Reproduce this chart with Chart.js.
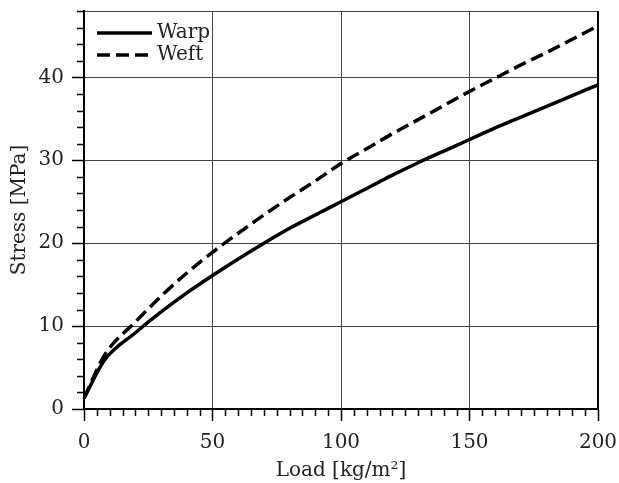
<!DOCTYPE html>
<html>
<head>
<meta charset="utf-8">
<script src="https://cdn.jsdelivr.net/npm/chart.js@4.4.1/dist/chart.umd.min.js"></script>
<style>
  html, body { margin: 0; padding: 0; background: #fff; }
  #wrap { width: 619px; height: 483px; }
</style>
</head>
<body>
<div id="wrap"><canvas id="c" width="619" height="483"></canvas></div>
<script>
const loads = [0, 8, 20, 30, 40, 50, 60, 70, 80, 90, 100, 110, 120, 130, 140, 150, 160, 170, 180, 190, 200];
const warp  = [1.3, 5.9, 9.2, 11.7, 14.0, 16.1, 18.1, 20.0, 21.8, 23.4, 25.0, 26.6, 28.2, 29.7, 31.1, 32.5, 33.9, 35.2, 36.5, 37.8, 39.1];
const weft  = [1.3, 6.5, 10.5, 13.6, 16.4, 18.9, 21.2, 23.4, 25.5, 27.5, 29.6, 31.4, 33.2, 34.9, 36.6, 38.3, 39.9, 41.5, 43.0, 44.6, 46.2];
const seriesLabels = ['Warp', 'Weft'];
const xMajorTicks = [0, 50, 100, 150, 200];
const yMajorTicks = [0, 10, 20, 30, 40];
const xMinorStep = 5;
const yMinorStep = 2;
const xTitle = 'Load [kg/m²]';
const yTitle = 'Stress [MPa]';

const FONT = 'DejaVu Serif';
const FS = 20;
const TXT = '#222';

function pts(ys) { return loads.map((x, i) => ({ x: x, y: ys[i] })); }

const extras = {
  id: 'extras',
  afterDraw(chart) {
    const ctx = chart.ctx;
    const xs = chart.scales.x, ys = chart.scales.y;
    const a = chart.chartArea;
    ctx.save();
    // minor ticks
    ctx.strokeStyle = '#000';
    ctx.lineWidth = 1.5;
    ctx.beginPath();
    for (let v = xs.min; v <= xs.max + 1e-9; v += xMinorStep) {
      if (xMajorTicks.includes(v)) continue;
      const px = Math.round(xs.getPixelForValue(v)) + 0.5;
      ctx.moveTo(px, a.bottom);
      ctx.lineTo(px, a.bottom + 7);
    }
    for (let v = ys.min; v <= ys.max + 1e-9; v += yMinorStep) {
      if (yMajorTicks.includes(v)) continue;
      const py = Math.round(ys.getPixelForValue(v)) + 0.5;
      ctx.moveTo(a.left, py);
      ctx.lineTo(a.left - 7, py);
    }
    ctx.stroke();
    // frame
    ctx.strokeStyle = '#444';
    ctx.lineWidth = 1;
    ctx.beginPath();
    ctx.moveTo(a.left, Math.round(a.top) + 0.5);
    ctx.lineTo(a.right, Math.round(a.top) + 0.5);
    ctx.stroke();
    ctx.strokeStyle = '#000';
    ctx.lineWidth = 2;
    ctx.beginPath();
    ctx.moveTo(a.right, a.top);
    ctx.lineTo(a.right, a.bottom);
    ctx.moveTo(a.left, a.top);
    ctx.lineTo(a.left, a.bottom + 1);
    ctx.moveTo(a.left - 1, a.bottom);
    ctx.lineTo(a.right + 1, a.bottom);
    ctx.stroke();
    // legend
    ctx.font = FS + 'px "' + FONT + '"';
    ctx.textBaseline = 'middle';
    ctx.textAlign = 'left';
    chart.data.datasets.forEach((ds, i) => {
      const y = a.top + 22 + i * 22;
      ctx.strokeStyle = ds.borderColor;
      ctx.lineWidth = ds.borderWidth;
      ctx.setLineDash(ds.borderDash || []);
      ctx.beginPath();
      ctx.moveTo(a.left + 13, y);
      ctx.lineTo(a.left + 68, y);
      ctx.stroke();
      ctx.setLineDash([]);
      ctx.fillStyle = TXT;
      ctx.fillText(ds.label, a.left + 73, y);
    });
    ctx.restore();
  }
};

new Chart(document.getElementById('c'), {
  type: 'line',
  data: {
    datasets: [
      { label: seriesLabels[0], data: pts(warp), borderColor: '#000', borderWidth: 3.5,
        pointRadius: 0, cubicInterpolationMode: 'monotone', fill: false },
      { label: seriesLabels[1], data: pts(weft), borderColor: '#000', borderWidth: 3.5,
        borderDash: [13, 6], pointRadius: 0, cubicInterpolationMode: 'monotone', fill: false }
    ]
  },
  options: {
    responsive: false,
    animation: false,
    layout: { padding: { top: 11, right: 21, left: 0, bottom: 0 } },
    plugins: { legend: { display: false }, tooltip: { enabled: false } },
    scales: {
      x: {
        type: 'linear', min: 0, max: 200,
        afterBuildTicks: s => { s.ticks = xMajorTicks.map(v => ({ value: v })); },
        afterFit: s => { s.height = 74; s.paddingLeft = 0; s.paddingRight = 0; },
        ticks: { color: TXT, font: { family: FONT, size: FS }, padding: 10, maxRotation: 0 },
        grid: { color: '#444', lineWidth: 1, tickLength: 12, tickColor: '#000', tickWidth: 1.5 },
        border: { display: true, color: '#000', width: 2 },
        title: { display: true, text: xTitle, color: TXT, font: { family: FONT, size: FS }, padding: { top: 2, bottom: 0 } }
      },
      y: {
        type: 'linear', min: 0, max: 48,
        afterBuildTicks: s => { s.ticks = yMajorTicks.map(v => ({ value: v })); },
        afterFit: s => { s.width = 84; s.paddingTop = 0; s.paddingBottom = 0; },
        ticks: { color: TXT, font: { family: FONT, size: FS }, padding: 8 },
        grid: { color: '#444', lineWidth: 1, tickLength: 12, tickColor: '#000', tickWidth: 1.5 },
        border: { display: true, color: '#000', width: 2 },
        title: { display: true, text: yTitle, color: TXT, font: { family: FONT, size: FS }, padding: { top: 8, bottom: 0 } }
      }
    }
  },
  plugins: [extras]
});
</script>
</body>
</html>
